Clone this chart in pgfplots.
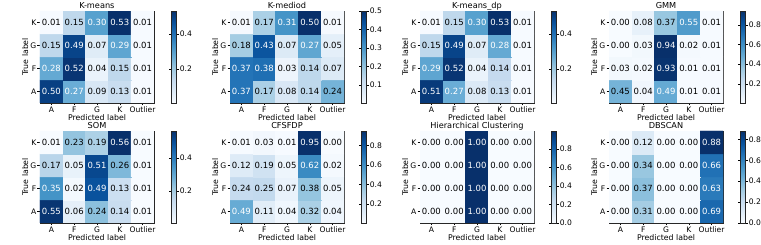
\documentclass[border=0pt]{standalone}
\usepackage{pgfplots}
\pgfplotsset{compat=1.18}
\usepackage{pgfplotstable}
\usepackage{fontspec}
\setmainfont{DejaVu Sans}

\pgfplotsset{
  colormap={mplblues}{rgb255=(247,251,255) rgb255=(222,235,247) rgb255=(198,219,239) rgb255=(158,202,225) rgb255=(107,174,214) rgb255=(66,146,198) rgb255=(33,113,181) rgb255=(8,81,156) rgb255=(8,48,107)},
  cmstyle/.style={
    scale only axis, width=114pt, height=92pt,
    anchor=south west,
    xmin=-0.5, xmax=4.5, ymin=-0.5, ymax=3.5,
    xtick={0,1,2,3,4}, xticklabels={A,F,G,K,Outlier},
    ytick={0,1,2,3}, yticklabels={A,F,G,K},
    tick align=outside, major tick length=2.5pt,
    tick style={black, line width=0.5pt},
    axis line style={black!85, line width=0.6pt},
    tick pos=left,
    tick label style={font=\fontsize{7.6}{8}\selectfont},
    xticklabel style={inner sep=1pt},
    yticklabel style={inner sep=1pt},
    xlabel={Predicted label}, ylabel={True label},
    label style={font=\fontsize{7.8}{8}\selectfont},
    xlabel style={inner sep=1pt},
    ylabel style={inner sep=1pt},
    title style={font=\fontsize{8.2}{9}\selectfont, inner sep=2pt, yshift=-6pt, text depth=0pt},
    colormap name=mplblues,
    colorbar,
    colorbar style={
      at={(parent axis.north east)}, anchor=north west, xshift=9pt,
      scale only axis, width=4.6pt, height=92pt,
      tick align=outside, major tick length=2.5pt,
      tick style={black, line width=0.5pt},
      axis line style={black!85, line width=0.6pt},
      yticklabel style={font=\fontsize{7.6}{8}\selectfont, inner sep=1pt,
        /pgf/number format/assume math mode=true,
        /pgf/number format/fixed, /pgf/number format/fixed zerofill,
        /pgf/number format/precision=1},
    },
  },
  celltext/.style={draw=none, mark=none, point meta=explicit symbolic,
    nodes near coords, nodes near coords align=center,
    every node near coord/.append style={font=\fontsize{8.5}{9}\selectfont, inner sep=0pt, text=#1}},
}

\newcommand{\cmpanel}[8]{%
  \begin{axis}[cmstyle, at={(#1pt,#2pt)}, title={#3},
    point meta min=#5, point meta max=#6,
    colorbar style={ytick={#7}}]
    \addplot[matrix plot*, mesh/cols=5, point meta=explicit]
      table[x=x, y=y, meta=v] {#4};
    \addplot[celltext=white, restrict expr to domain={\thisrow{v}}{#8:10}]
      table[x=x, y=y, meta=v] {#4};
    \addplot[celltext=black, restrict expr to domain={\thisrow{v}}{-1:#8}]
      table[x=x, y=y, meta=v] {#4};
  \end{axis}}

\pgfplotstableread{
x y v
0 0 0.50
1 0 0.27
2 0 0.09
3 0 0.13
4 0 0.01
0 1 0.28
1 1 0.52
2 1 0.04
3 1 0.15
4 1 0.01
0 2 0.15
1 2 0.49
2 2 0.07
3 2 0.29
4 2 0.01
0 3 0.01
1 3 0.15
2 3 0.30
3 3 0.53
4 3 0.01
}\tkmeans

\pgfplotstableread{
x y v
0 0 0.37
1 0 0.17
2 0 0.08
3 0 0.14
4 0 0.24
0 1 0.37
1 1 0.38
2 1 0.03
3 1 0.14
4 1 0.07
0 2 0.18
1 2 0.43
2 2 0.07
3 2 0.27
4 2 0.05
0 3 0.01
1 3 0.17
2 3 0.31
3 3 0.50
4 3 0.01
}\tkmediod

\pgfplotstableread{
x y v
0 0 0.51
1 0 0.27
2 0 0.08
3 0 0.13
4 0 0.01
0 1 0.29
1 1 0.52
2 1 0.04
3 1 0.14
4 1 0.01
0 2 0.15
1 2 0.49
2 2 0.07
3 2 0.28
4 2 0.01
0 3 0.01
1 3 0.15
2 3 0.30
3 3 0.53
4 3 0.01
}\tkmeansdp

\pgfplotstableread{
x y v
0 0 0.45
1 0 0.04
2 0 0.49
3 0 0.01
4 0 0.01
0 1 0.03
1 1 0.02
2 1 0.93
3 1 0.01
4 1 0.01
0 2 0.00
1 2 0.03
2 2 0.94
3 2 0.02
4 2 0.01
0 3 0.00
1 3 0.08
2 3 0.37
3 3 0.55
4 3 0.01
}\tgmm

\pgfplotstableread{
x y v
0 0 0.55
1 0 0.06
2 0 0.24
3 0 0.14
4 0 0.01
0 1 0.35
1 1 0.02
2 1 0.49
3 1 0.13
4 1 0.01
0 2 0.17
1 2 0.05
2 2 0.51
3 2 0.26
4 2 0.01
0 3 0.01
1 3 0.23
2 3 0.19
3 3 0.56
4 3 0.01
}\tsom

\pgfplotstableread{
x y v
0 0 0.49
1 0 0.11
2 0 0.04
3 0 0.32
4 0 0.04
0 1 0.24
1 1 0.25
2 1 0.07
3 1 0.38
4 1 0.05
0 2 0.12
1 2 0.19
2 2 0.05
3 2 0.62
4 2 0.02
0 3 0.01
1 3 0.03
2 3 0.01
3 3 0.95
4 3 0.00
}\tcfsfdp

\pgfplotstableread{
x y v
0 0 0.00
1 0 0.00
2 0 1.00
3 0 0.00
4 0 0.00
0 1 0.00
1 1 0.00
2 1 1.00
3 1 0.00
4 1 0.00
0 2 0.00
1 2 0.00
2 2 1.00
3 2 0.00
4 2 0.00
0 3 0.00
1 3 0.00
2 3 1.00
3 3 0.00
4 3 0.00
}\thier

\pgfplotstableread{
x y v
0 0 0.00
1 0 0.31
2 0 0.00
3 0 0.00
4 0 0.69
0 1 0.00
1 1 0.37
2 1 0.00
3 1 0.00
4 1 0.63
0 2 0.00
1 2 0.34
2 2 0.00
3 2 0.00
4 2 0.66
0 3 0.00
1 3 0.12
2 3 0.00
3 3 0.00
4 3 0.88
}\tdbscan

\begin{document}
\begin{tikzpicture}
\path[use as bounding box] (0pt,0pt) rectangle (761pt,245pt);
\cmpanel{40}{142}{K-means}{\tkmeans}{0.007}{0.53}{0.2,0.4}{0.265}
\cmpanel{230}{142}{K-mediod}{\tkmediod}{0.004}{0.50}{0.1,0.2,0.3,0.4,0.5}{0.25}
\cmpanel{420}{142}{K-means\_dp}{\tkmeansdp}{0.007}{0.53}{0.2,0.4}{0.265}
\cmpanel{609}{142}{GMM}{\tgmm}{0.005}{0.94}{0.2,0.4,0.6,0.8}{0.47}
\cmpanel{40}{22}{SOM}{\tsom}{0.01}{0.56}{0.2,0.4}{0.28}
\cmpanel{230}{22}{CFSFDP}{\tcfsfdp}{0.004}{0.95}{0.2,0.4,0.6,0.8}{0.475}
\cmpanel{420}{22}{Hierarchical Clustering}{\thier}{0.0}{0.997}{0.0,0.2,0.4,0.6,0.8}{0.5}
\cmpanel{609}{22}{DBSCAN}{\tdbscan}{0.0}{0.88}{0.0,0.2,0.4,0.6,0.8}{0.44}
\end{tikzpicture}
\end{document}
